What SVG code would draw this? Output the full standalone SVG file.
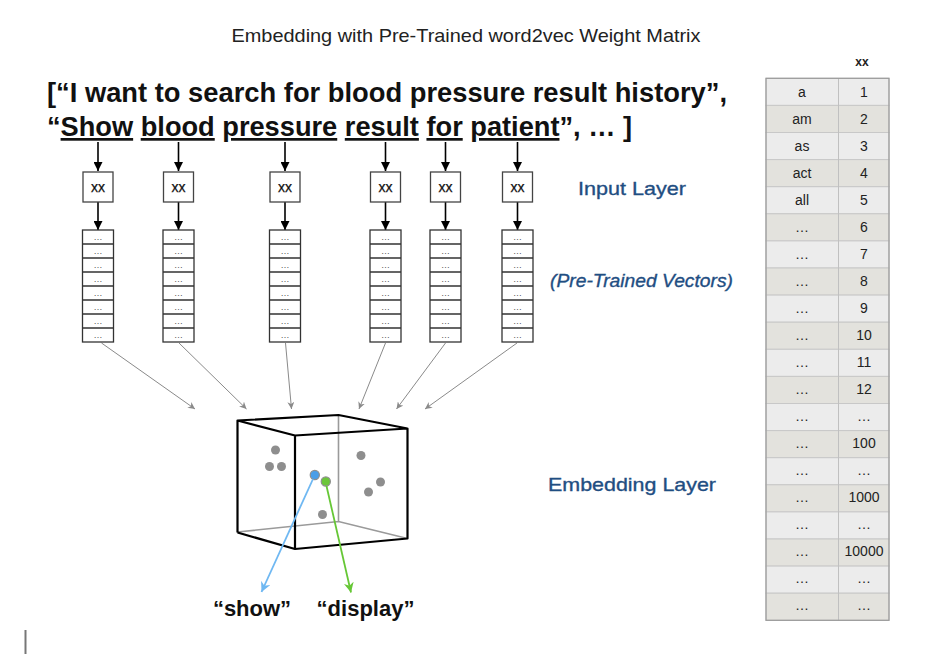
<svg xmlns="http://www.w3.org/2000/svg" width="933" height="663" viewBox="0 0 933 663">
<defs>
<marker id="ab" viewBox="0 0 10 10" refX="10" refY="5" markerWidth="9" markerHeight="9" markerUnits="userSpaceOnUse" orient="auto"><path d="M0,0 L10,5 L0,10 z" fill="#000"/></marker>
<marker id="ag" viewBox="0 0 10 10" refX="10" refY="5" markerWidth="7" markerHeight="7" markerUnits="userSpaceOnUse" orient="auto"><path d="M0,0 L10,5 L0,10 L3,5 z" fill="#8a8a8a"/></marker>
<marker id="abl" viewBox="0 0 10 10" refX="10" refY="5" markerWidth="10" markerHeight="10" markerUnits="userSpaceOnUse" orient="auto"><path d="M0,0 L10,5 L0,10 L3,5 z" fill="#6fb8f2"/></marker>
<marker id="agr" viewBox="0 0 10 10" refX="10" refY="5" markerWidth="10" markerHeight="10" markerUnits="userSpaceOnUse" orient="auto"><path d="M0,0 L10,5 L0,10 L3,5 z" fill="#66c736"/></marker>
</defs>
<style>
text{font-family:"Liberation Sans",Arial,sans-serif}
.box{fill:#fff;stroke:#444;stroke-width:1.3}
.cell{fill:#fff;stroke:#333;stroke-width:1.3}
.bx{font-size:14px;text-anchor:middle;fill:#111;stroke:#111;stroke-width:0.25}
.dots{font-size:9px;text-anchor:middle;fill:#555}
.blk{stroke:#000;stroke-width:1.6;fill:none}
.gry{stroke:#8a8a8a;stroke-width:1;fill:none}
.lbl{font-size:19px;fill:#1f4e82;stroke:#1f4e82;stroke-width:0.35}
.r1{fill:#ececec;stroke:#c8c8c8;stroke-width:1}
.r2{fill:#e3e2dd;stroke:#c8c8c8;stroke-width:1}
.tt{font-size:14px;text-anchor:middle;fill:#222}
.cb{stroke:#000;stroke-width:2.2;fill:none;stroke-linejoin:round}
.cg{stroke:#9a9a9a;stroke-width:1.6;fill:none}
.dot{fill:#8e8e8e}
.sent{font-size:27px;font-weight:bold;fill:#111}
.q{font-size:22px;font-weight:bold;fill:#111;text-anchor:middle}
</style>
<rect width="933" height="663" fill="#fff"/>
<text x="466" y="42" font-size="18.5" fill="#222" text-anchor="middle" textLength="469" lengthAdjust="spacingAndGlyphs">Embedding with Pre-Trained word2vec Weight Matrix</text>
<g id="sentences">
<text class="sent" x="47" y="102" textLength="680" lengthAdjust="spacingAndGlyphs">[“I want to search for blood pressure result history”,</text>
<text class="sent" x="47" y="136" textLength="585" lengthAdjust="spacingAndGlyphs">“<tspan text-decoration="underline">Show</tspan> <tspan text-decoration="underline">blood</tspan> <tspan text-decoration="underline">pressure</tspan> <tspan text-decoration="underline">result</tspan> <tspan text-decoration="underline">for</tspan> <tspan text-decoration="underline">patient</tspan>”, … ]</text>
</g>
<g id="connectors">
<line class="blk" x1="98" y1="142" x2="98" y2="171" marker-end="url(#ab)"/>
<line class="blk" x1="178.5" y1="142" x2="178.5" y2="171" marker-end="url(#ab)"/>
<line class="blk" x1="285" y1="142" x2="285" y2="171" marker-end="url(#ab)"/>
<line class="blk" x1="385.5" y1="142" x2="385.5" y2="171" marker-end="url(#ab)"/>
<line class="blk" x1="445.5" y1="142" x2="445.5" y2="171" marker-end="url(#ab)"/>
<line class="blk" x1="517.5" y1="142" x2="517.5" y2="171" marker-end="url(#ab)"/>
<line class="blk" x1="98" y1="202" x2="98" y2="230" marker-end="url(#ab)"/>
<line class="blk" x1="178.5" y1="202" x2="178.5" y2="230" marker-end="url(#ab)"/>
<line class="blk" x1="285" y1="202" x2="285" y2="230" marker-end="url(#ab)"/>
<line class="blk" x1="385.5" y1="202" x2="385.5" y2="230" marker-end="url(#ab)"/>
<line class="blk" x1="445.5" y1="202" x2="445.5" y2="230" marker-end="url(#ab)"/>
<line class="blk" x1="517.5" y1="202" x2="517.5" y2="230" marker-end="url(#ab)"/>
<line class="gry" x1="101.5" y1="343" x2="195" y2="409" marker-end="url(#ag)"/>
<line class="gry" x1="179" y1="343" x2="246.5" y2="409" marker-end="url(#ag)"/>
<line class="gry" x1="285.5" y1="343" x2="291.5" y2="409" marker-end="url(#ag)"/>
<line class="gry" x1="385.5" y1="343" x2="359" y2="409" marker-end="url(#ag)"/>
<line class="gry" x1="445.5" y1="343" x2="396.5" y2="409" marker-end="url(#ag)"/>
<line class="gry" x1="517" y1="343" x2="425" y2="409" marker-end="url(#ag)"/>
</g>
<g id="col1">
<rect class="box" x="83" y="172" width="30" height="30"/><text class="bx" x="98" y="192">xx</text>
<rect class="cell" x="82.5" y="230" width="31" height="112"/>
<path d="M82.5,244h31M82.5,258h31M82.5,272h31M82.5,286h31M82.5,300h31M82.5,314h31M82.5,328h31" stroke="#333" stroke-width="1.3"/>
<g class="dots"><text x="98" y="240">…</text><text x="98" y="254">…</text><text x="98" y="268">…</text><text x="98" y="282">…</text><text x="98" y="296">…</text><text x="98" y="310">…</text><text x="98" y="324">…</text><text x="98" y="338">…</text></g>
</g>
<g id="col2">
<rect class="box" x="163.5" y="172" width="30" height="30"/><text class="bx" x="178.5" y="192">xx</text>
<rect class="cell" x="163" y="230" width="31" height="112"/>
<path d="M163,244h31M163,258h31M163,272h31M163,286h31M163,300h31M163,314h31M163,328h31" stroke="#333" stroke-width="1.3"/>
<g class="dots"><text x="178.5" y="240">…</text><text x="178.5" y="254">…</text><text x="178.5" y="268">…</text><text x="178.5" y="282">…</text><text x="178.5" y="296">…</text><text x="178.5" y="310">…</text><text x="178.5" y="324">…</text><text x="178.5" y="338">…</text></g>
</g>
<g id="col3">
<rect class="box" x="270" y="172" width="30" height="30"/><text class="bx" x="285" y="192">xx</text>
<rect class="cell" x="269.5" y="230" width="31" height="112"/>
<path d="M269.5,244h31M269.5,258h31M269.5,272h31M269.5,286h31M269.5,300h31M269.5,314h31M269.5,328h31" stroke="#333" stroke-width="1.3"/>
<g class="dots"><text x="285" y="240">…</text><text x="285" y="254">…</text><text x="285" y="268">…</text><text x="285" y="282">…</text><text x="285" y="296">…</text><text x="285" y="310">…</text><text x="285" y="324">…</text><text x="285" y="338">…</text></g>
</g>
<g id="col4">
<rect class="box" x="370.5" y="172" width="30" height="30"/><text class="bx" x="385.5" y="192">xx</text>
<rect class="cell" x="370" y="230" width="31" height="112"/>
<path d="M370,244h31M370,258h31M370,272h31M370,286h31M370,300h31M370,314h31M370,328h31" stroke="#333" stroke-width="1.3"/>
<g class="dots"><text x="385.5" y="240">…</text><text x="385.5" y="254">…</text><text x="385.5" y="268">…</text><text x="385.5" y="282">…</text><text x="385.5" y="296">…</text><text x="385.5" y="310">…</text><text x="385.5" y="324">…</text><text x="385.5" y="338">…</text></g>
</g>
<g id="col5">
<rect class="box" x="430.5" y="172" width="30" height="30"/><text class="bx" x="445.5" y="192">xx</text>
<rect class="cell" x="430" y="230" width="31" height="112"/>
<path d="M430,244h31M430,258h31M430,272h31M430,286h31M430,300h31M430,314h31M430,328h31" stroke="#333" stroke-width="1.3"/>
<g class="dots"><text x="445.5" y="240">…</text><text x="445.5" y="254">…</text><text x="445.5" y="268">…</text><text x="445.5" y="282">…</text><text x="445.5" y="296">…</text><text x="445.5" y="310">…</text><text x="445.5" y="324">…</text><text x="445.5" y="338">…</text></g>
</g>
<g id="col6">
<rect class="box" x="502.5" y="172" width="30" height="30"/><text class="bx" x="517.5" y="192">xx</text>
<rect class="cell" x="502" y="230" width="31" height="112"/>
<path d="M502,244h31M502,258h31M502,272h31M502,286h31M502,300h31M502,314h31M502,328h31" stroke="#333" stroke-width="1.3"/>
<g class="dots"><text x="517.5" y="240">…</text><text x="517.5" y="254">…</text><text x="517.5" y="268">…</text><text x="517.5" y="282">…</text><text x="517.5" y="296">…</text><text x="517.5" y="310">…</text><text x="517.5" y="324">…</text><text x="517.5" y="338">…</text></g>
</g>
<g id="labels">
<text class="lbl" x="578" y="195" textLength="108" lengthAdjust="spacingAndGlyphs">Input Layer</text>
<text class="lbl" x="550" y="287" font-style="italic" font-size="17" textLength="183" lengthAdjust="spacingAndGlyphs">(Pre-Trained Vectors)</text>
<text class="lbl" x="548" y="491" textLength="168" lengthAdjust="spacingAndGlyphs">Embedding Layer</text>
</g>
<g id="cube">
<path class="cg" d="M338.5,415 V521.5 M237.5,532 L338.5,521.5 L407.5,538.5"/>
<path class="cb" d="M237.5,532.5 V420.5 L338.5,415 L407.5,428.5 M237.5,420.5 L295,435.5 M295,435.5 L407.5,428.5 V538.5 L295,549 Z M237.5,532.5 L295,549"/>
<circle class="dot" cx="275.5" cy="450" r="4.5"/>
<circle class="dot" cx="269.5" cy="466.5" r="4.5"/>
<circle class="dot" cx="281.5" cy="466.5" r="4.5"/>
<circle class="dot" cx="361" cy="455.5" r="4.5"/>
<circle class="dot" cx="380.5" cy="482" r="4.5"/>
<circle class="dot" cx="368.5" cy="492" r="4.5"/>
<circle class="dot" cx="322.5" cy="514.5" r="4.5"/>
<circle cx="314.8" cy="475" r="4.6" fill="#4a9ee8" stroke="#8e8e8e" stroke-width="1.2"/>
<circle cx="325.8" cy="481.5" r="4.6" fill="#6cc63a" stroke="#8e8e8e" stroke-width="1.2"/>
</g>
<g id="words-out">
<line x1="313" y1="479" x2="261.5" y2="592" stroke="#6fb8f2" stroke-width="1.8" marker-end="url(#abl)"/>
<line x1="326.5" y1="486" x2="351" y2="592.5" stroke="#66c736" stroke-width="1.8" marker-end="url(#agr)"/>
<text class="q" x="252" y="616">“show”</text>
<text class="q" x="365.5" y="616">“display”</text>
</g>
<g id="table">
<text x="862" y="66" font-size="12" font-weight="bold" text-anchor="middle" fill="#222">xx</text>
<rect class="r1" x="766" y="78.3" width="123" height="27.1"/>
<rect class="r2" x="766" y="105.4" width="123" height="27.1"/>
<rect class="r1" x="766" y="132.5" width="123" height="27.1"/>
<rect class="r2" x="766" y="159.6" width="123" height="27.1"/>
<rect class="r1" x="766" y="186.7" width="123" height="27.1"/>
<rect class="r2" x="766" y="213.8" width="123" height="27.1"/>
<rect class="r1" x="766" y="240.9" width="123" height="27.1"/>
<rect class="r2" x="766" y="268" width="123" height="27.1"/>
<rect class="r1" x="766" y="295.1" width="123" height="27.1"/>
<rect class="r2" x="766" y="322.2" width="123" height="27.1"/>
<rect class="r1" x="766" y="349.3" width="123" height="27.1"/>
<rect class="r2" x="766" y="376.4" width="123" height="27.1"/>
<rect class="r1" x="766" y="403.5" width="123" height="27.1"/>
<rect class="r2" x="766" y="430.6" width="123" height="27.1"/>
<rect class="r1" x="766" y="457.7" width="123" height="27.1"/>
<rect class="r2" x="766" y="484.8" width="123" height="27.1"/>
<rect class="r1" x="766" y="511.9" width="123" height="27.1"/>
<rect class="r2" x="766" y="539" width="123" height="27.1"/>
<rect class="r1" x="766" y="566.1" width="123" height="27.1"/>
<rect class="r2" x="766" y="593.2" width="123" height="27.1"/>
<line x1="838.5" y1="78.3" x2="838.5" y2="620.3" stroke="#c0c0c0" stroke-width="1"/>
<rect x="766" y="78.3" width="123" height="542" fill="none" stroke="#9a9a9a" stroke-width="1.2"/>
<g class="tt">
<text x="802" y="97">a</text><text x="864" y="97">1</text>
<text x="802" y="124">am</text><text x="864" y="124">2</text>
<text x="802" y="151">as</text><text x="864" y="151">3</text>
<text x="802" y="178">act</text><text x="864" y="178">4</text>
<text x="802" y="205">all</text><text x="864" y="205">5</text>
<text x="802" y="232">…</text><text x="864" y="232">6</text>
<text x="802" y="259">…</text><text x="864" y="259">7</text>
<text x="802" y="286">…</text><text x="864" y="286">8</text>
<text x="802" y="313">…</text><text x="864" y="313">9</text>
<text x="802" y="340">…</text><text x="864" y="340">10</text>
<text x="802" y="367">…</text><text x="864" y="367">11</text>
<text x="802" y="394">…</text><text x="864" y="394">12</text>
<text x="802" y="421">…</text><text x="864" y="421">…</text>
<text x="802" y="448">…</text><text x="864" y="448">100</text>
<text x="802" y="475">…</text><text x="864" y="475">…</text>
<text x="802" y="502">…</text><text x="864" y="502">1000</text>
<text x="802" y="529">…</text><text x="864" y="529">…</text>
<text x="802" y="556">…</text><text x="864" y="556">10000</text>
<text x="802" y="583">…</text><text x="864" y="583">…</text>
<text x="802" y="610">…</text><text x="864" y="610">…</text>
</g>
</g>
<line x1="25.5" y1="630" x2="25.5" y2="654" stroke="#777" stroke-width="2"/>
</svg>
